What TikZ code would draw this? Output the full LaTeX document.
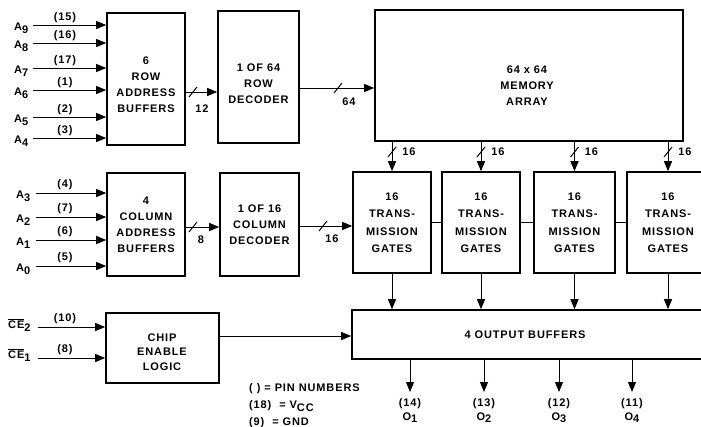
\documentclass[tikz,border=0pt]{standalone}
\usepackage{fontspec}
\setmainfont{Liberation Sans}[LetterSpace=8]
\usetikzlibrary{arrows.meta}
\tikzset{
  box/.style={draw, line width=1.6pt, rectangle, inner sep=0pt, align=center},
  conn/.style={line width=1pt},
  arr/.style={line width=1pt, -{Triangle[length=10pt,width=8pt]}},
  txt/.style={inner sep=0pt, align=center},
  slashmk/.style={line width=1pt},
  lbl/.style={inner sep=0pt},
}
\newcommand\sbs[1]{\raisebox{-3pt}{#1}}
\begin{document}
\begin{tikzpicture}[x=1pt,y=-1pt,
  every node/.style={font=\bfseries\fontsize{11}{16}\selectfont}]
\useasboundingbox (0,0) rectangle (701,426);
\clip (0,0) rectangle (701,426);

% ---------- boxes ----------
\node[box, minimum width=78pt, minimum height=132pt] (rab) at (146,79) {};
\node[txt] (rabt) at (146,84.5) {6\\ROW\\ADDRESS\\BUFFERS};
\node[box, minimum width=81pt, minimum height=132pt] (rdec) at (258.5,77) {};
\node[txt] (rdect) at (258.5,84) {1 OF 64\\ROW\\DECODER};
\node[box, minimum width=308pt, minimum height=131pt] (mem) at (529,75.5) {};
\node[txt] (memt) at (527,86) {64 x 64\\MEMORY\\ARRAY};

\node[box, minimum width=78pt, minimum height=103pt] (cab) at (146,224.5) {4\\COLUMN\\ADDRESS\\BUFFERS};
\node[box, minimum width=79pt, minimum height=103pt] (cdec) at (259.5,224.5) {1 OF 16\\COLUMN\\DECODER};

\tikzset{gate/.style={box, minimum height=101pt, font=\bfseries\fontsize{11}{17.5}\selectfont}}
\node[gate, minimum width=78pt] (g1) at (392,222.5) {16\\TRANS-\\MISSION\\GATES};
\node[gate, minimum width=78pt] (g2) at (481,222.5) {16\\TRANS-\\MISSION\\GATES};
\node[gate, minimum width=81pt] (g3) at (574.5,222.5) {16\\TRANS-\\MISSION\\GATES};
\node[gate, minimum width=82pt] (g4) at (668,222.5) {16\\TRANS-\\MISSION\\GATES};

\node[box, minimum width=351pt, minimum height=49pt] (ob) at (527.5,334.5) {};
\node[txt] (obt) at (525,335) {4 OUTPUT BUFFERS};

\node[box, minimum width=113pt, minimum height=70pt] (cel) at (162.5,348) {};
\node[txt, font=\bfseries\fontsize{11}{14.5}\selectfont] (celt) at (162,352) {CHIP\\ENABLE\\LOGIC};

% ---------- row address inputs ----------
\foreach \y/\n/\p in {25/9/15, 43/8/16, 68/7/17, 90/6/1, 117/5/2, 138/4/3} {
  \coordinate (ra\n) at (33,\y);
  \node[lbl, anchor=base west] (lra\n) at (14,\y+5) {A\sbs{\n}};
  \node[lbl, anchor=base] (pra\n) at (65,\y-5) {(\p)};
  \draw[arr] (ra\n) -- (rab.west |- ra\n);
}
% ---------- column address inputs ----------
\foreach \y/\n/\p in {193/3/4, 217/2/7, 240/1/6, 266/0/5} {
  \coordinate (ca\n) at (36,\y);
  \node[lbl, anchor=base west] (lca\n) at (16,\y+5) {A\sbs{\n}};
  \node[lbl, anchor=base] (pca\n) at (65,\y-6) {(\p)};
  \draw[arr] (ca\n) -- (cab.west |- ca\n);
}

% ---------- chip enable inputs ----------
\coordinate (ce2) at (38,327);
\coordinate (ce1) at (38,358);
\node[lbl, anchor=base west] (lce2) at (8,328) {$\overline{\mbox{CE}}$\sbs{2}};
\node[lbl, anchor=base west] (lce1) at (8,358) {$\overline{\mbox{CE}}$\sbs{1}};
\node[lbl, anchor=base] (pce2) at (65,321) {(10)};
\node[lbl, anchor=base] (pce1) at (65,352) {(8)};
\draw[arr] (ce2) -- (cel.west |- ce2);
\draw[arr] (ce1) -- (cel.west |- ce1);

% ---------- bus connectors ----------
\coordinate (y92) at (0,92);
\draw[arr] (rab.east |- y92) -- (rdec.west |- y92);
\draw[slashmk] (189,97) -- (197,87);
\node[lbl] (n12) at (202,109) {12};

\coordinate (y88) at (0,88);
\draw[arr] (rdec.east |- y88) -- (mem.west |- y88);
\draw[slashmk] (334,93) -- (342,83);
\node[lbl] (n64) at (349,102) {64};

\coordinate (y227) at (0,227);
\draw[arr] (cab.east |- y227) -- (cdec.west |- y227);
\draw[slashmk] (189,232) -- (197,222);
\node[lbl] (n8) at (201,240) {8};

\coordinate (y226) at (0,226);
\draw[arr] (cdec.east |- y226) -- (g1.west |- y226);
\draw[slashmk] (319,231) -- (327,221);
\node[lbl] (n16c) at (332,239) {16};

% memory to gates
\foreach \g/\x in {g1/392, g2/481, g3/574.5, g4/668} {
  \draw[arr] (mem.south -| \g.north) -- (\g.north);
  \draw[slashmk] (\x-4,157) -- (\x+4,147);
  \node[lbl] (m\g) at (\x+17,152) {16};
  \draw[arr] (\g.south) -- (\g.south |- ob.north);
}
% gate interconnects
\draw[conn] (g1.east) -- (g2.west);
\draw[conn] (g2.east) -- (g3.west);
\draw[conn] (g3.east) -- (g4.west);

% chip enable to output buffers
\coordinate (y336) at (0,336);
\draw[arr] (cel.east |- y336) -- (ob.west |- y336);

% outputs
\foreach \x/\n/\p in {410/1/14, 484/2/13, 559/3/12, 632/4/11} {
  \coordinate (o\n) at (\x,392);
  \draw[arr] (ob.south -| o\n) -- (o\n);
  \node[lbl, anchor=base] (po\n) at (\x,406) {(\p)};
  \node[lbl, anchor=base] (lo\n) at (\x,420) {O\raisebox{-2.5pt}{\n}};
}

% legend
\node[lbl, anchor=base west] (leg1) at (249,391) {( ) = PIN NUMBERS};
\node[lbl, anchor=base west] (leg2) at (249,408) {(18) \ = V\sbs{CC}};
\node[lbl, anchor=base west] (leg3) at (249,425) {(9) \ = GND};
\end{tikzpicture}
\end{document}
